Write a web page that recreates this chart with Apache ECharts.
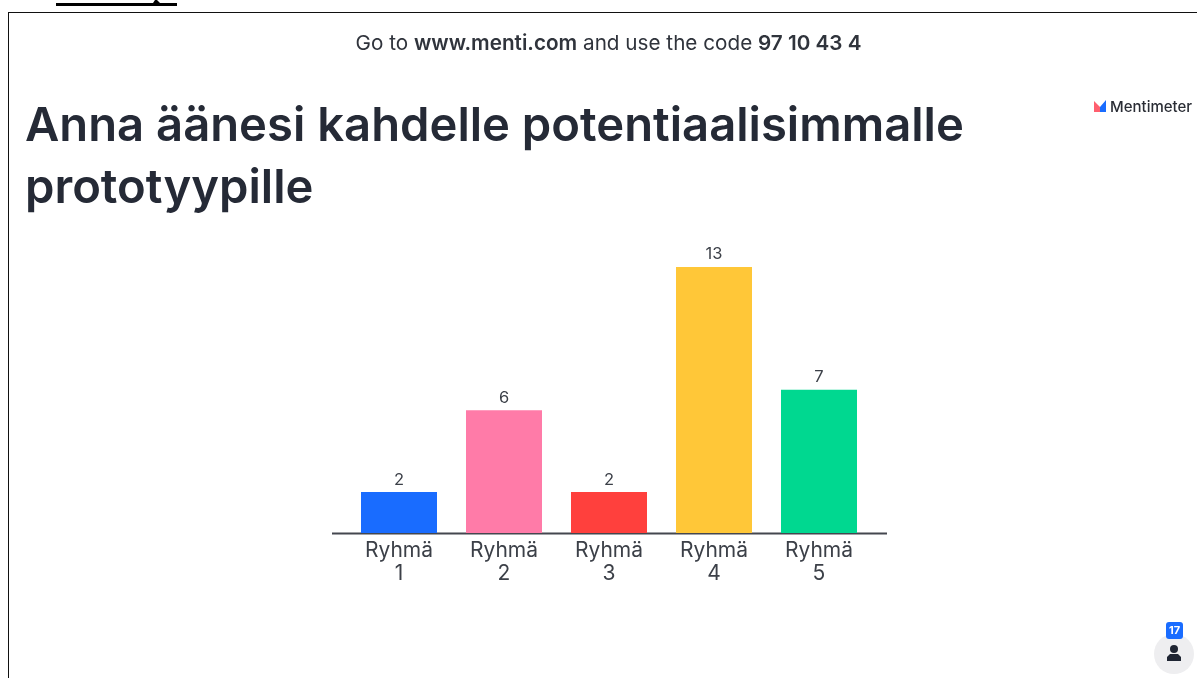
<!DOCTYPE html>
<html><head><meta charset="utf-8">
<style>html,body{margin:0;padding:0;background:#fff}#c{width:1197px;height:678px}</style>
<script src="https://cdn.jsdelivr.net/npm/echarts@6/dist/echarts.min.js"></script>
</head><body><div id="c"></div>
<script>
var categories = ['Ryhmä\n1','Ryhmä\n2','Ryhmä\n3','Ryhmä\n4','Ryhmä\n5'];
var votes = [2,6,2,13,7];
var barColors = ['#196cff','#ff7ba8','#ff403d','#ffc738','#00d890'];
var titleText = 'Anna äänesi kahdelle potentiaalisimmalle\nprototyypille';
var font = 'Inter';
var chart = echarts.init(document.getElementById('c'));
chart.setOption({
  animation:false,
  backgroundColor:'#fff',
  title:{text:titleText,left:20,top:91,textStyle:{fontFamily:font,fontSize:47.2,fontWeight:600,color:'#252a36',lineHeight:62}},
  grid:{left:346.5,width:525,top:267,height:266},
  xAxis:{type:'category',data:categories,axisLine:{show:false},axisTick:{show:false},
    axisLabel:{fontFamily:font,fontSize:21,lineHeight:23,color:'#3c4048',margin:6}},
  yAxis:{type:'value',min:0,max:13,show:false,splitLine:{show:false}},
  series:[{type:'bar',data:votes.map(function(v,i){return {value:v,itemStyle:{color:barColors[i]}};}),barWidth:76,
    label:{show:true,position:'top',distance:4,fontFamily:font,fontSize:16.5,color:'#3c4048'}}],
  graphic:[
    {type:'rect',silent:true,shape:{x:56,y:3,width:121,height:3},style:{fill:'#000'}},
    {type:'polygon',silent:true,shape:{points:[[153,3],[160,3],[157,0],[155,0]]},style:{fill:'#000'}},
    {type:'rect',silent:true,shape:{x:8,y:12,width:1189,height:1},style:{fill:'#111'}},
    {type:'rect',silent:true,shape:{x:8,y:12,width:1,height:666},style:{fill:'#111'}},
    {type:'line',silent:true,shape:{x1:332,y1:533.5,x2:887,y2:533.5},style:{stroke:'#44474f',lineWidth:2}},
    {type:'text',silent:true,style:{x:608.5,y:44,text:'{a|Go to }{b|www.menti.com}{a| and use the code }{b|97 10 43 4}',align:'center',verticalAlign:'middle',
      rich:{a:{fontFamily:font,fontSize:20.7,fontWeight:400,fill:'#30343c'},b:{fontFamily:font,fontSize:20.7,fontWeight:600,fill:'#30343c'}}}},
    {type:'polygon',silent:true,shape:{points:[[1094,112],[1094,101],[1100,107],[1100,112]]},style:{fill:'#ff5f6e'}},
    {type:'polygon',silent:true,shape:{points:[[1100,107],[1106,100],[1106,112],[1100,112]]},style:{fill:'#196cff'}},
    {type:'text',silent:true,style:{x:1110,y:107,text:'Mentimeter',align:'left',verticalAlign:'middle',fontFamily:font,fontSize:15,fontWeight:500,fill:'#2a2d35'}},
    {type:'circle',silent:true,shape:{cx:1174,cy:654,r:20},style:{fill:'#eeeef0'}},
    {type:'rect',silent:true,shape:{x:1166,y:622,width:17,height:17,r:3},style:{fill:'#196cff'}},
    {type:'text',silent:true,style:{x:1174.5,y:631,text:'17',align:'center',verticalAlign:'middle',fontFamily:font,fontSize:11,fontWeight:700,fill:'#fff'}},
    {type:'circle',silent:true,shape:{cx:1174,cy:649,r:4},style:{fill:'#1f2533'}},
    {type:'polygon',silent:true,shape:{points:[[1167,661],[1167,657],[1170,654],[1178,654],[1181,657],[1181,661]]},style:{fill:'#1f2533'}}
  ]
});
</script></body></html>
